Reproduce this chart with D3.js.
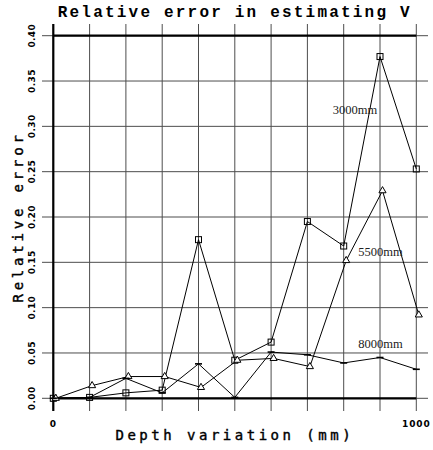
<!DOCTYPE html>
<html>
<head>
<meta charset="utf-8">
<script src="https://cdn.jsdelivr.net/npm/d3@7/dist/d3.min.js"></script>
<style>
  html, body { margin: 0; padding: 0; background: #fff; }
  svg { display: block; }
</style>
</head>
<body>
<svg id="chart" width="433" height="450"></svg>
<script>
// Depth variation (mm) at which the velocity estimate was evaluated
const depths = [0, 100, 200, 300, 400, 500, 600, 700, 800, 900, 1000];

// Relative error of V for each nominal depth
const err3000 = [0, 0.001, 0.006, 0.009, 0.175, 0.042, 0.062, 0.195, 0.168, 0.377, 0.253];
const err5500 = [0, 0.014, 0.024, 0.024, 0.012, 0.042, 0.044, 0.035, 0.152, 0.229, 0.092];
const err8000 = [0, 0.001, 0.022, 0.006, 0.038, 0.001, 0.051, 0.048, 0.039, 0.045, 0.032];

const seriesNames = ["3000mm", "5500mm", "8000mm"];

// Axis ticks
const yTicks = [0, 0.05, 0.10, 0.15, 0.20, 0.25, 0.30, 0.35, 0.40];
const xGrid = [0, 100, 200, 300, 400, 500, 600, 700, 800, 900, 1000];
const xLabels = [0, 1000];

// Where each series name is written (depth, error)
const labelDepth = [770, 840, 840];
const labelErr = [0.314, 0.1575, 0.056];

const W = 433, H = 450;
const margin = { top: 35.7, right: 16.7, bottom: 51.7, left: 53.3 };

const svg = d3.select("#chart");

const x = d3.scaleLinear().domain([0, 1000]).range([margin.left, W - margin.right]);
const y = d3.scaleLinear().domain([0, 0.40]).range([H - margin.bottom, margin.top]);

const gridColor = "#4d4d4d";

// Horizontal grid lines
svg.append("g").selectAll("line").data(yTicks).join("line")
  .attr("x1", 42).attr("x2", 428)
  .attr("y1", d => y(d)).attr("y2", d => y(d))
  .attr("stroke", gridColor).attr("stroke-width", 1);

// Vertical grid lines
svg.append("g").selectAll("line").data(xGrid).join("line")
  .attr("x1", d => x(d)).attr("x2", d => x(d))
  .attr("y1", 24).attr("y2", 411)
  .attr("stroke", gridColor).attr("stroke-width", 1);

// Heavy frame lines: top (0.40), bottom (0.00) and left axis
const heavy = svg.append("g").attr("stroke", "#000").attr("stroke-width", 2.2);
[0, 0.40].forEach(v => {
  heavy.append("line")
    .attr("x1", x(0)).attr("x2", x(1000))
    .attr("y1", y(v)).attr("y2", y(v));
});
heavy.append("line")
  .attr("x1", x(0)).attr("x2", x(0))
  .attr("y1", 24).attr("y2", 411);

// Y tick labels, rotated
svg.append("g").selectAll("text").data(yTicks).join("text")
  .attr("transform", d => `translate(34.5,${y(d)}) rotate(-90)`)
  .attr("text-anchor", "middle")
  .attr("font-family", "DejaVu Sans, sans-serif")
  .attr("font-weight", "bold")
  .attr("font-size", 9)
  .attr("letter-spacing", 0.4)
  .attr("fill", "#000")
  .text(d => d.toFixed(2));

// X tick labels
svg.append("g").selectAll("text").data(xLabels).join("text")
  .attr("x", d => x(d))
  .attr("y", 426.5)
  .attr("text-anchor", "middle")
  .attr("font-family", "DejaVu Sans, sans-serif")
  .attr("font-weight", "bold")
  .attr("font-size", 9)
  .attr("letter-spacing", 0.9)
  .attr("fill", "#000")
  .text(d => d);

// Title
svg.append("text")
  .attr("x", (x(0) + x(1000)) / 2)
  .attr("y", 16.5)
  .attr("text-anchor", "middle")
  .attr("font-family", "Liberation Mono, Courier New, monospace")
  .attr("font-weight", "bold")
  .attr("font-size", 16)
  .attr("letter-spacing", 2.2)
  .text("Relative error in estimating V");

// Axis titles
svg.append("text")
  .attr("x", (x(0) + x(1000)) / 2)
  .attr("y", 440)
  .attr("text-anchor", "middle")
  .attr("font-family", "DejaVu Sans Mono, monospace")
  .attr("font-size", 14)
  .attr("letter-spacing", 3.5)
  .attr("stroke", "#000")
  .attr("stroke-width", 0.4)
  .text("Depth variation (mm)");

svg.append("text")
  .attr("transform", `translate(23,${(y(0) + y(0.4)) / 2}) rotate(-90)`)
  .attr("text-anchor", "middle")
  .attr("font-family", "DejaVu Sans Mono, monospace")
  .attr("font-size", 14)
  .attr("letter-spacing", 3.8)
  .attr("stroke", "#000")
  .attr("stroke-width", 0.4)
  .text("Relative error");

// Series data
const series = [
  { name: seriesNames[0], values: err3000, marker: "square", dx: 0 },
  { name: seriesNames[1], values: err5500, marker: "triangle", dx: 2.5 },
  { name: seriesNames[2], values: err8000, marker: "dash", dx: 0 }
];

const line = d3.line()
  .x(d => d.px)
  .y(d => y(d.v));

series.forEach(s => {
  const pts = depths.map((d, i) => ({ px: x(d) + s.dx, v: s.values[i] }));
  const g = svg.append("g");
  g.append("path")
    .attr("d", line(pts))
    .attr("fill", "none")
    .attr("stroke", "#000")
    .attr("stroke-width", 1);

  if (s.marker === "square") {
    g.selectAll("rect").data(pts).join("rect")
      .attr("x", d => d.px - 3).attr("y", d => y(d.v) - 3)
      .attr("width", 6).attr("height", 6)
      .attr("fill", "none").attr("stroke", "#000").attr("stroke-width", 1);
  } else if (s.marker === "triangle") {
    const tri = d3.symbol().type(d3.symbolTriangle).size(22);
    g.selectAll("path.m").data(pts).join("path")
      .attr("class", "m")
      .attr("d", tri)
      .attr("transform", d => `translate(${d.px},${y(d.v)})`)
      .attr("fill", "#fff").attr("stroke", "#000").attr("stroke-width", 1);
  } else {
    g.selectAll("line.m").data(pts).join("line")
      .attr("class", "m")
      .attr("x1", d => d.px - 3.5).attr("x2", d => d.px + 3.5)
      .attr("y1", d => y(d.v)).attr("y2", d => y(d.v))
      .attr("stroke", "#000").attr("stroke-width", 1.6);
  }
});

// Series names
svg.append("g").selectAll("text").data(seriesNames).join("text")
  .attr("x", (d, i) => x(labelDepth[i]))
  .attr("y", (d, i) => y(labelErr[i]))
  .attr("font-family", "Liberation Serif, Times New Roman, serif")
  .attr("font-size", 12.5)
  .attr("fill", "#222")
  .text(d => d);
</script>
</body>
</html>
